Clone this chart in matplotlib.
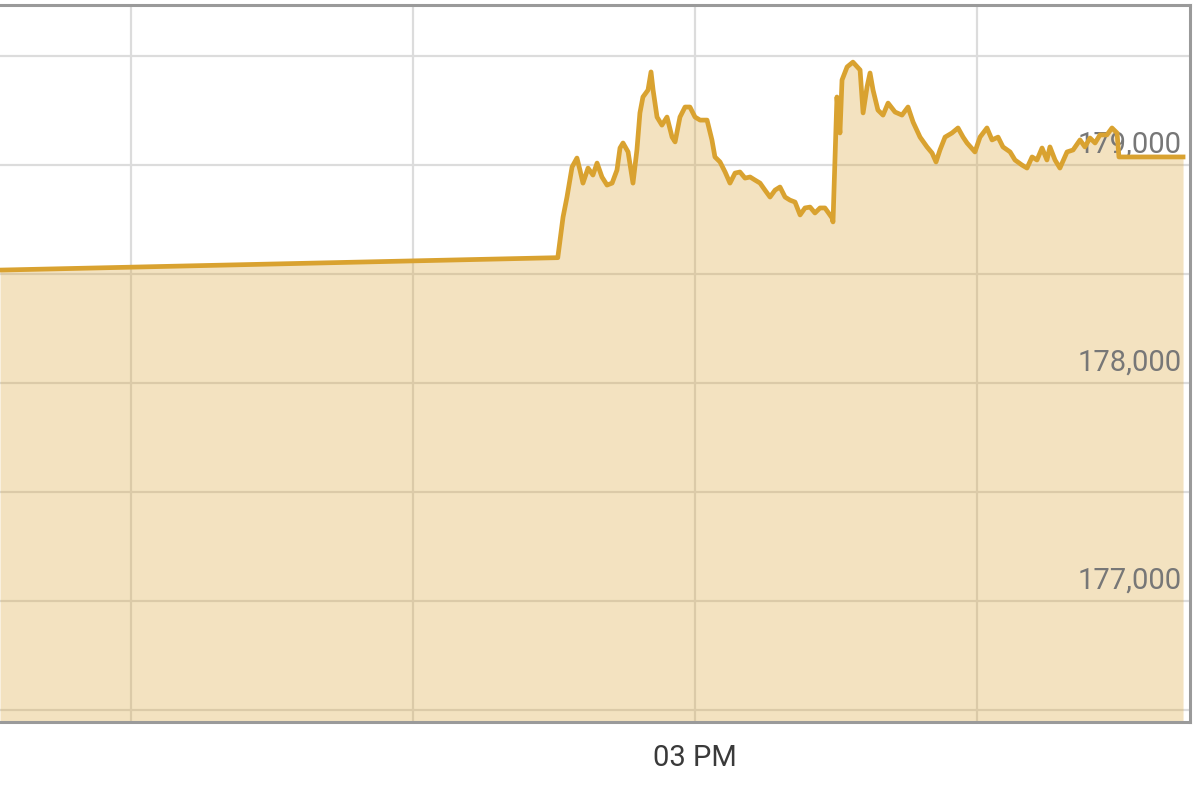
import matplotlib
matplotlib.use("Agg")
import matplotlib.pyplot as plt
from matplotlib.ticker import FixedLocator, NullFormatter

plt.rcParams['font.family'] = ['Roboto', 'DejaVu Sans']

# minutes after 14:00
minutes = [23.03, 52.70, 52.98, 53.19, 53.46, 53.72, 53.88, 54.04, 54.31, 54.57,
           54.79, 55.05, 55.32, 55.59, 55.85, 56.01, 56.17, 56.44, 56.70, 56.91,
           57.07, 57.23, 57.50, 57.66, 57.77, 57.98, 58.24, 58.51, 58.78, 58.94,
           59.20, 59.47, 59.73, 60.00, 60.27, 60.64, 60.90, 61.06, 61.33, 61.60,
           61.86, 62.13, 62.39, 62.66, 62.93, 63.19, 63.46, 63.72, 63.99, 64.26,
           64.52, 64.79, 65.05, 65.32, 65.59, 65.85, 66.12, 66.38, 66.65, 66.91,
           67.07, 67.29, 67.34, 67.55, 67.71, 67.82, 68.09, 68.40, 68.78, 68.94,
           69.15, 69.31, 69.47, 69.73, 70.00, 70.27, 70.64, 71.01, 71.33, 71.60,
           71.97, 72.34, 72.61, 72.82, 73.03, 73.30, 73.67, 73.99, 74.26, 74.47,
           74.89, 75.16, 75.53, 75.80, 76.12, 76.38, 76.76, 77.02, 77.39, 77.66,
           77.93, 78.19, 78.46, 78.72, 78.88, 79.15, 79.41, 79.79, 80.11, 80.48,
           80.74, 81.01, 81.28, 81.54, 81.91, 82.18, 82.45, 82.55, 85.96]
prices = [178518, 178575, 178761, 178853, 178991, 179032, 178977, 178917, 178986, 178954,
          179009, 178945, 178908, 178917, 178977, 179078, 179101, 179060, 178917, 179069,
          179239, 179312, 179344, 179427, 179344, 179220, 179183, 179220, 179128, 179106,
          179220, 179266, 179266, 179220, 179206, 179206, 179115, 179037, 179014, 178968,
          178917, 178963, 178968, 178940, 178945, 178931, 178917, 178885, 178853, 178885,
          178899, 178853, 178839, 178830, 178771, 178803, 178807, 178780, 178803, 178803,
          178784, 178757, 178739, 179312, 179147, 179390, 179450, 179472, 179436, 179239,
          179358, 179422, 179344, 179252, 179229, 179284, 179243, 179229, 179266, 179197,
          179128, 179083, 179055, 179014, 179069, 179128, 179147, 179170, 179128, 179101,
          179060, 179128, 179170, 179115, 179128, 179083, 179060, 179023, 179000, 178986,
          179037, 179023, 179078, 179023, 179083, 179023, 178986, 179060, 179069, 179115,
          179083, 179124, 179101, 179138, 179138, 179170, 179147, 179037, 179037]

x_ticks = [30, 45, 60, 75]
x_tick_labels = ["", "", "03 PM", ""]
y_grid = [176500, 177000, 177500, 178000, 178500, 179000, 179500]
y_labels = [177000, 178000, 179000]

line_color = '#d9a230'

fig = plt.figure(figsize=(12, 8), dpi=100)
ax = fig.add_axes([0.0, 1 - 722 / 800, 1190 / 1200, (722 - 5) / 800])

ymin, ymax = 176445, 179734
ax.set_xlim(minutes[0], 86.33)
ax.set_ylim(ymin, ymax)

ax.fill_between(minutes, prices, ymin, color=line_color, alpha=0.3, lw=0, zorder=2)
ax.plot(minutes, prices, color=line_color, lw=3.4, zorder=4, solid_joinstyle='round')

ax.xaxis.set_major_locator(FixedLocator(x_ticks))
ax.yaxis.set_major_locator(FixedLocator(y_grid))
ax.yaxis.set_major_formatter(NullFormatter())
ax.set_xticklabels(x_tick_labels)
ax.tick_params(axis='both', length=0)
ax.tick_params(axis='x', labelsize=21, labelcolor='#3a3a3a', pad=16)
ax.grid(True, color='#dcdcdc', lw=1.6, zorder=1)
ax.set_axisbelow(True)

for v in y_labels:
    ax.annotate(f"{v:,}", xy=(1.0, v), xycoords=('axes fraction', 'data'),
                xytext=(-6, 9), textcoords='offset points', ha='right', va='baseline',
                fontsize=21, color='#777777', zorder=3)

for side in ['top', 'right', 'bottom']:
    ax.spines[side].set_color('#9a9a9a')
    ax.spines[side].set_linewidth(2.2)
ax.spines['left'].set_visible(False)

fig.savefig('out.png', dpi=100)
